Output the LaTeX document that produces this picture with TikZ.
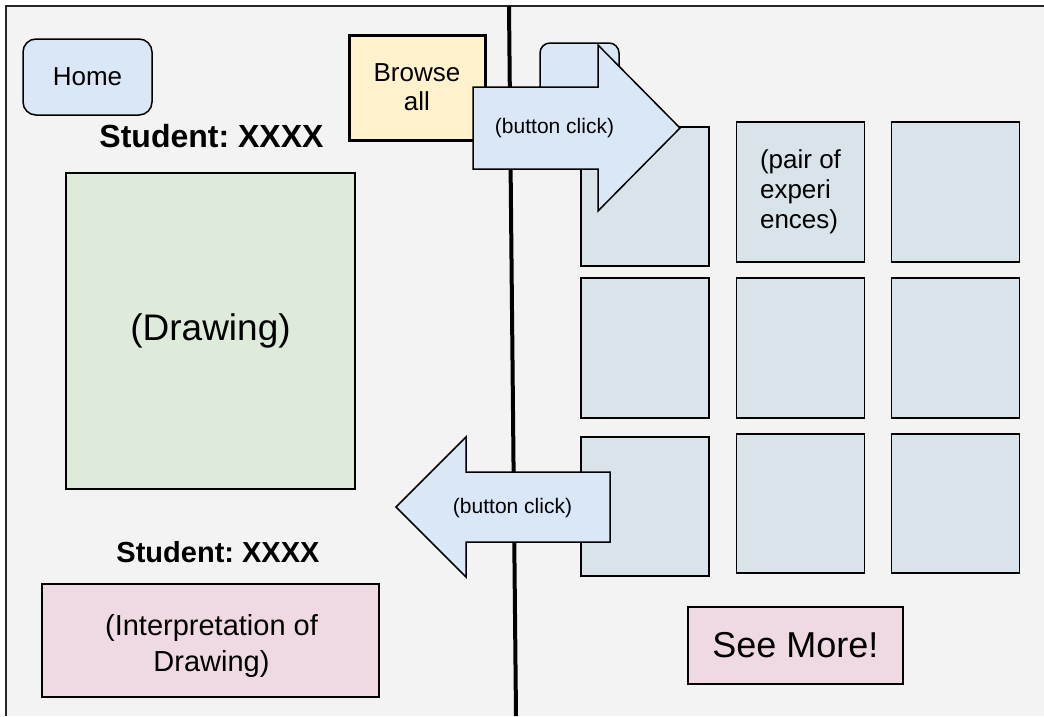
\documentclass[tikz,border=0pt]{standalone}
\usepackage{fontspec}
\setmainfont{Liberation Sans}
\frenchspacing
\definecolor{pagebg}{HTML}{F3F3F3}
\definecolor{btnblue}{HTML}{DAE7F7}
\definecolor{browsey}{HTML}{FFF2CC}
\definecolor{gridc}{HTML}{D8E4EA}
\definecolor{drawg}{HTML}{DFEBDA}
\definecolor{pinkc}{HTML}{EFD9E2}
\newcommand\fsz[2]{\fontsize{#1}{#2}\selectfont}
\begin{document}
\begin{tikzpicture}[x=1pt,y=-1pt,
  box/.style={draw=black, line width=1.5pt, inner sep=0pt, outer sep=0pt},
  sq/.style={box, fill=gridc, minimum width=128pt},
  lbl/.style={inner sep=0pt, outer sep=0pt, align=center},
  arr/.style={draw=black, line width=1.5pt, fill=btnblue, line join=miter}]
\useasboundingbox (0,0) rectangle (1044,716);
\fill[white] (0,0) rectangle (1044,716);
\fill[pagebg] (6,6) rectangle (1044,716);
\draw[line width=2pt, black!85] (6,716) -- (6,6) -- (1044,6);
% divider
\coordinate (dtop) at (509,6);
\coordinate (dbot) at (516,716);
\draw[line width=4pt] (dtop) -- (dbot);
% left panel
\node[box, fill=btnblue, rounded corners=13pt, minimum width=129pt, minimum height=76pt, font=\fsz{26}{30}] (home) at (87.5,77) {Home};
\node[box, fill=browsey, line width=3pt, minimum width=136pt, minimum height=105pt, lbl, font=\fsz{26}{29}] (browse) at (417,87.5) {Browse\\all};
\node[lbl, font=\bfseries\fsz{32}{36}] (stud1) at (211.5,136) {Student: XXXX};
\node[box, fill=drawg, minimum width=289pt, minimum height=316pt, font=\fsz{37}{42}] (drawing) at (210.5,331) {(Drawing)};
\node[lbl, font=\bfseries\fsz{29}{33}] (stud2) at (218,552) {Student: XXXX};
\node[box, fill=pinkc, minimum width=337pt, minimum height=113pt] (interp) at (210.5,640.5) {};
\node[lbl, font=\fsz{29}{36}] (interpt) at (211.5,646) {(Interpretation of\\Drawing)};
% right panel
\node[box, fill=btnblue, rounded corners=10pt, minimum width=79pt, minimum height=76pt] (home2) at (579.5,81) {};
\node[sq, minimum height=139pt] (s11) at (645,196.5) {};
\node[sq, minimum height=140pt, lbl, align=left, font=\fsz{26}{30}] (s12) at (800.5,192) {(pair of\\experi\\ences)};
\node[sq, minimum height=140pt] (s13) at (955.5,192) {};
\node[sq, minimum height=140pt] (s21) at (645,348) {};
\node[sq, minimum height=140pt] (s22) at (800.5,348) {};
\node[sq, minimum height=140pt] (s23) at (955.5,348) {};
\node[sq, minimum height=139pt] (s31) at (645,506.5) {};
\node[sq, minimum height=139pt] (s32) at (800.5,503.5) {};
\node[sq, minimum height=139pt] (s33) at (955.5,503.5) {};
\node[box, fill=pinkc, minimum width=215pt, minimum height=77pt, font=\fsz{36}{40}] (more) at (795.5,645.5) {See More!};
% arrows
\draw[arr] (473,87) -- (598,87) -- (598,45) -- (680,128) -- (598,211) -- (598,169) -- (473,169) -- cycle;
\node[lbl, font=\fsz{21}{24}] (clickr) at (554.5,128) {(button click)};
\draw[arr] (610,472) -- (466,472) -- (466,437) -- (396,507) -- (466,577) -- (466,542) -- (610,542) -- cycle;
\node[lbl, font=\fsz{21}{24}] (clickl) at (512.5,508) {(button click)};
\end{tikzpicture}
\end{document}
